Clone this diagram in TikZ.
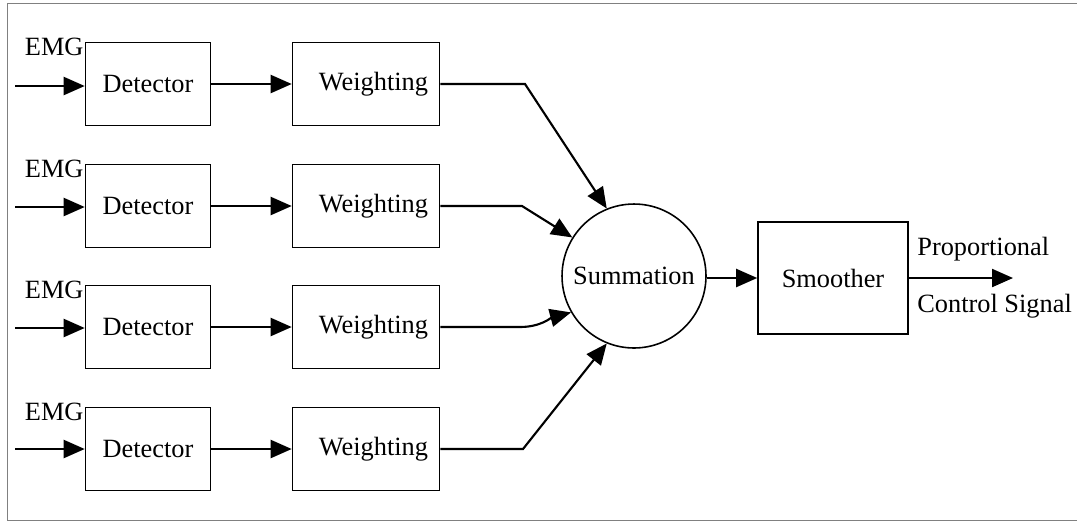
\documentclass[tikz,border=0pt]{standalone}
\usepackage{fontspec}
\setmainfont{Liberation Serif}
\usetikzlibrary{arrows.meta}
\begin{document}
\begin{tikzpicture}[x=0.02cm, y=-0.02cm, font=\fontsize{15}{18}\selectfont]
        \tikzstyle{block}=[draw, line width=0.9pt, inner sep=0pt]
        \tikzstyle{detbox}=[block, minimum width=2.5cm, minimum height=1.66cm]
        \tikzstyle{wgtbox}=[block, minimum width=2.94cm, minimum height=1.66cm]
        \tikzstyle{emglabel}=[anchor=east, inner sep=0.5pt, yshift=-0.1cm]
        \tikzstyle{link}=[line width=1.2pt, -{Triangle[length=0.42cm, width=0.36cm]}]
        \useasboundingbox (0,0) rectangle (1077,522);
        \draw[black!50, line width=0.5pt] (1077,3) -- (7,3) -- (7,520) -- (1077,520);
        % channels
        \node[detbox] (det1) at (148,84) {Detector};
        \node[detbox] (det2) at (148,206) {Detector};
        \node[detbox] (det3) at (148,327) {Detector};
        \node[detbox] (det4) at (148,449) {Detector};
        \node[wgtbox] (wgt1) at (366,84) {\hspace{0.3cm}Weighting};
        \node[wgtbox] (wgt2) at (366,206) {\hspace{0.3cm}Weighting};
        \node[wgtbox] (wgt3) at (366,327) {\hspace{0.3cm}Weighting};
        \node[wgtbox] (wgt4) at (366,449) {\hspace{0.3cm}Weighting};
        \node[emglabel] (emg1) at (det1.north west) {EMG};
        \node[emglabel] (emg2) at (det2.north west) {EMG};
        \node[emglabel] (emg3) at (det3.north west) {EMG};
        \node[emglabel] (emg4) at (det4.north west) {EMG};
        \coordinate (in1) at (15,86);
        \coordinate (in2) at (15,207);
        \coordinate (in3) at (15,328);
        \coordinate (in4) at (15,449);
        % sum and output
        \node[circle, draw, line width=0.9pt, minimum size=2.88cm, inner sep=0pt] (sum) at (634,276) {Summation};
        \node[block, minimum width=3cm, minimum height=2.24cm] (smooth) at (833,278) {Smoother};
        \coordinate (out) at (1013,278);
        \node[anchor=west, inner sep=0pt] (prop) at (917,249) {Proportional};
        \node[anchor=west, inner sep=0pt] (ctrl) at (917,306) {Control Signal};
        \coordinate (b1) at (525,84);
        \coordinate (b2) at (522,206);
        \coordinate (b3) at (520,327);
        \coordinate (b4) at (523,449);
        \draw [link] (in1) -- (det1.west |- in1);
        \draw [link] (in2) -- (det2.west |- in2);
        \draw [link] (in3) -- (det3.west |- in3);
        \draw [link] (in4) -- (det4.west |- in4);
        \draw [link] (det1) -- (wgt1);
        \draw [link] (det2) -- (wgt2);
        \draw [link] (det3) -- (wgt3);
        \draw [link] (det4) -- (wgt4);
        \draw [link] (wgt1.east) -- (b1) -- (sum.112);
        \draw [link] (wgt2.east) -- (b2) -- (sum.148);
        \draw [link] (wgt3.east) -- (b3) to[out=0, in=195] (sum.210);
        \draw [link] (wgt4.east) -- (b4) -- (sum.248);
        \draw [link] (sum.east |- smooth) -- (smooth);
        \draw [link] (smooth) -- (out);
    \end{tikzpicture}
\end{document}
